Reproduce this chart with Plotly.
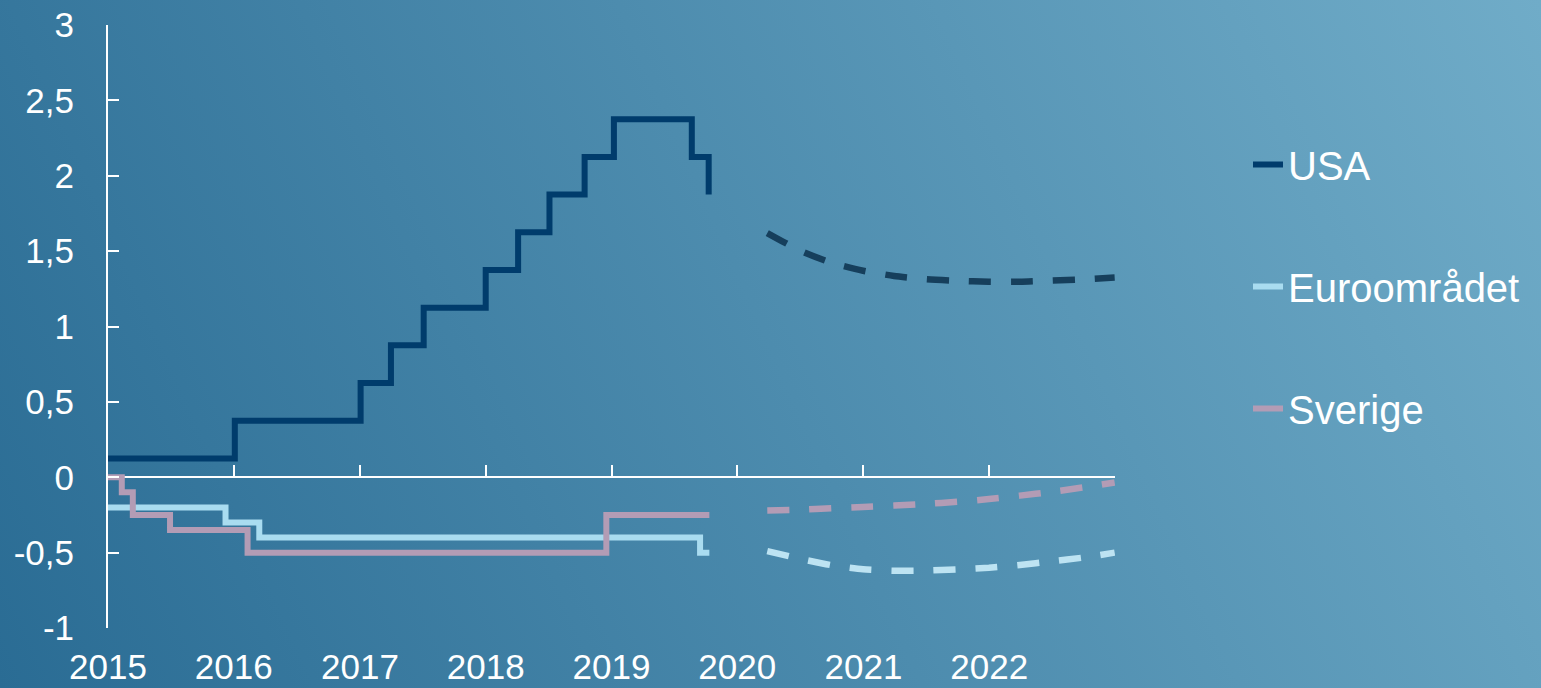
import base64
import plotly.graph_objects as go

# ---------------- data ----------------
usa_dates = ["2015-01-01", "2016-01-04", "2017-01-03", "2017-04-01", "2017-07-05", "2018-01-01",
             "2018-04-05", "2018-07-05", "2018-10-15", "2019-01-08", "2019-08-22", "2019-10-10"]
usa_vals = [0.125, 0.375, 0.625, 0.875, 1.125, 1.375, 1.625, 1.875, 2.125, 2.375, 2.125, 1.875]

euro_dates = ["2015-01-01", "2015-12-08", "2016-03-15", "2019-09-15", "2019-10-12"]
euro_vals = [-0.2, -0.3, -0.4, -0.5, -0.5]

swe_dates = ["2015-01-01", "2015-02-10", "2015-03-14", "2015-06-30", "2016-02-10", "2018-12-17", "2019-10-12"]
swe_vals = [0.0, -0.1, -0.25, -0.35, -0.5, -0.25, -0.25]

fc_dates = ["2020-03-28", "2020-06-30", "2020-09-30", "2020-12-31", "2021-03-31", "2021-06-30",
            "2021-09-30", "2021-12-31", "2022-03-31", "2022-06-30", "2022-09-30", "2022-12-31"]
usa_fc = [1.62, 1.505, 1.423, 1.37, 1.335, 1.314, 1.303, 1.297, 1.297, 1.305, 1.313, 1.325]
euro_fc = [-0.49, -0.54, -0.583, -0.61, -0.62, -0.619, -0.611, -0.60, -0.582, -0.558, -0.533, -0.50]
swe_fc = [-0.22, -0.215, -0.205, -0.197, -0.188, -0.177, -0.163, -0.145, -0.122, -0.097, -0.068, -0.035]

year_ticks = ["2015", "2016", "2017", "2018", "2019", "2020", "2021", "2022"]
y_ticks = [-1, -0.5, 0, 0.5, 1, 1.5, 2, 2.5, 3]
y_ticktext = ["-1", "-0,5", "0", "0,5", "1", "1,5", "2", "2,5", "3"]

names = ["USA", "Euroområdet", "Sverige"]
solid_colors = ["#003C6C", "#A9DCF0", "#B39CB5"]
dash_colors = ["#163F5C", "#BDE3F2", "#B39CB5"]

# ---------------- layout geometry ----------------
W, H = 1541, 688
ML, MR, MT, MB = 108, 426, 25, 60
PW, PH = W - ML - MR, H - MT - MB
FONT = "Liberation Sans, Arial, sans-serif"

svg = f'''<svg xmlns="http://www.w3.org/2000/svg" width="{W}" height="{H}" viewBox="0 0 {W} {H}" preserveAspectRatio="none">
<defs><linearGradient id="g" x1="0" y1="{H}" x2="{W}" y2="0" gradientUnits="userSpaceOnUse">
<stop offset="0" stop-color="#2A6C94"/><stop offset="1" stop-color="#70ACC8"/></linearGradient></defs>
<rect width="{W}" height="{H}" fill="url(#g)"/></svg>'''
bg_uri = "data:image/svg+xml;base64," + base64.b64encode(svg.encode()).decode()

fig = go.Figure()

series = [(usa_dates, usa_vals, usa_fc), (euro_dates, euro_vals, euro_fc), (swe_dates, swe_vals, swe_fc)]
for i, (d, v, fc) in enumerate(series):
    fig.add_trace(go.Scatter(
        x=d, y=v, name=names[i], mode="lines", line_shape="hv",
        line=dict(color=solid_colors[i], width=6), legendgroup=names[i]))
for i, (d, v, fc) in enumerate(series):
    fig.add_trace(go.Scatter(
        x=fc_dates, y=fc, name=names[i] + " prognos", mode="lines", showlegend=False,
        line=dict(color=dash_colors[i], width=6.5, dash="22px,20px", shape="spline", smoothing=0.6),
        xaxis="x2"))

fig.update_layout(
    width=W, height=H,
    margin=dict(l=ML, r=MR, t=MT, b=MB, pad=0, autoexpand=False),
    paper_bgcolor="rgba(0,0,0,0)", plot_bgcolor="rgba(0,0,0,0)",
    font=dict(family=FONT, color="white"),
    images=[dict(source=bg_uri, xref="paper", yref="paper",
                 x=-ML / PW, y=1 + MT / PH, sizex=W / PW, sizey=H / PH,
                 sizing="stretch", xanchor="left", yanchor="top", layer="below")],
    xaxis=dict(type="date", range=["2015-01-01", "2023-01-01"], automargin=False,
               tickvals=[f"{y}-01-01" for y in year_ticks], ticktext=year_ticks,
               showgrid=False, zeroline=False, showline=False, ticks="",
               tickfont=dict(size=35, color="white", family=FONT), ticklabelstandoff=15),
    xaxis2=dict(type="date", overlaying="x", matches="x", anchor="free", position=0.25,
                side="bottom", showgrid=False, zeroline=False, showline=True, automargin=False,
                linecolor="white", linewidth=2, ticks="inside", ticklen=11, tickwidth=2,
                tickcolor="white", showticklabels=False, layer="below traces",
                tickvals=[f"{y}-01-01" for y in range(2015, 2024)]),
    yaxis=dict(range=[-1, 3], tickvals=y_ticks, ticktext=y_ticktext, showgrid=False,
               zeroline=False, showline=True, linecolor="white", linewidth=2, automargin=False,
               ticks="inside", ticklen=11, tickwidth=2, tickcolor="white",
               tickfont=dict(size=35, color="white", family=FONT), ticklabelstandoff=25),
    legend=dict(x=(1248 - ML) / PW, xanchor="left", y=1 - (132 - MT) / PH, yanchor="top",
                font=dict(size=40, color="white", family=FONT), bgcolor="rgba(0,0,0,0)",
                tracegroupgap=67, itemwidth=30),
    showlegend=True,
)

fig.write_html(
    "out.html",
    config={"displayModeBar": False},
    post_script="document.body.style.margin='0';document.body.style.overflow='hidden';"
                "document.documentElement.style.overflow='hidden';",
)
